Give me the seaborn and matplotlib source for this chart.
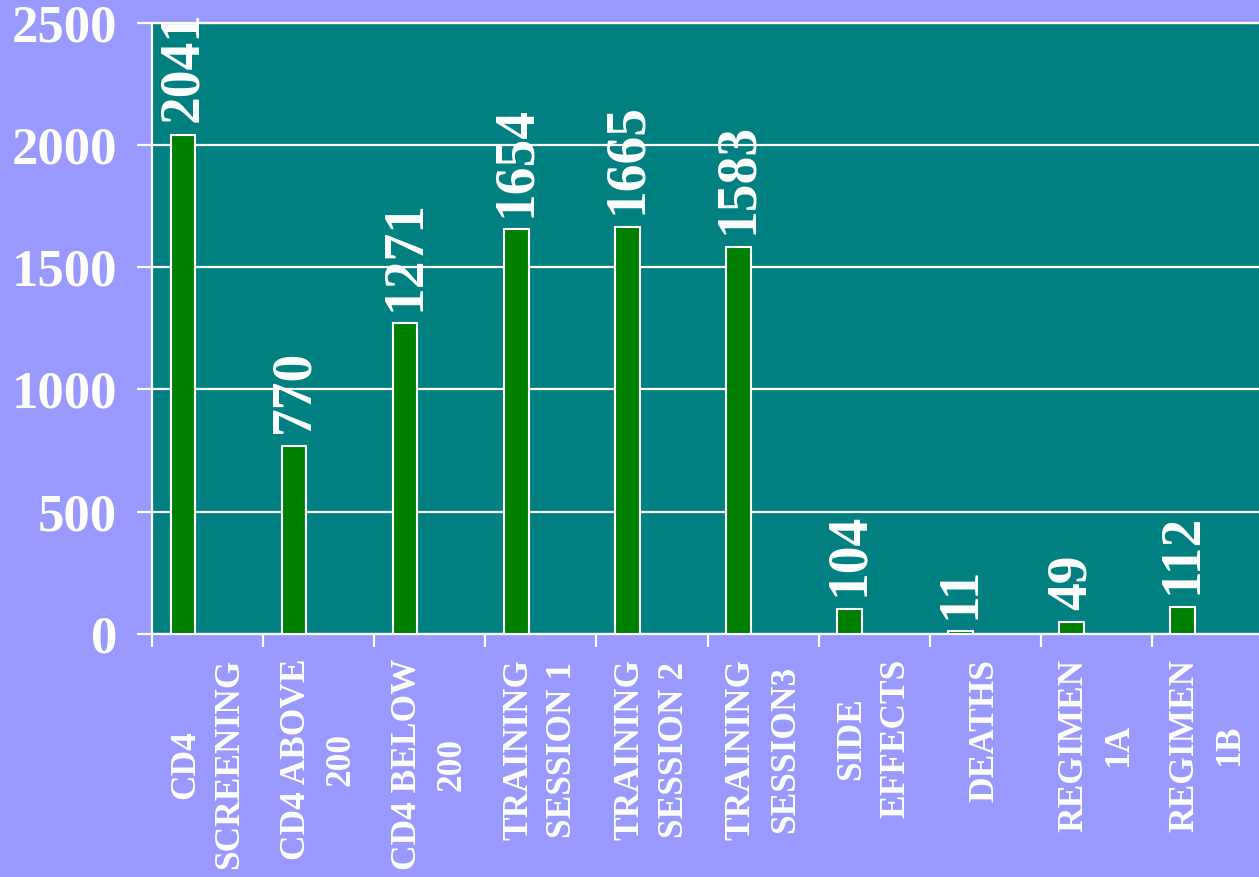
import matplotlib
matplotlib.use("Agg")
import matplotlib.pyplot as plt
import seaborn as sns
import pandas as pd
import numpy as np

categories = ["CD4\nSCREENING", "CD4 ABOVE\n200", "CD4 BELOW\n200",
              "TRAINING\nSESSION 1", "TRAINING\nSESSION 2", "TRAINING\nSESSION3",
              "SIDE\nEFFECTS", "DEATHS", "REGIMEN\n1A", "REGIMEN\n1B"]
values = [2041, 770, 1271, 1654, 1665, 1583, 104, 11, 49, 112]
series_levels = ["Series 1", "Series 2", "Series 3"]
y_ticks = [0, 500, 1000, 1500, 2000, 2500]

BG = "#9999FF"
PLOT_BG = "#008080"
BAR = "#008000"
WHITE = "#FFFFFF"

sns.set_style("ticks")
plt.rcParams["font.family"] = ["Liberation Serif", "DejaVu Serif"]
plt.rcParams["font.weight"] = "bold"

df = pd.DataFrame({"category": categories, "value": values, "series": series_levels[0]})

fig = plt.figure(figsize=(12.59, 8.77), dpi=100, facecolor=BG)
ax = fig.add_axes([152 / 1259, 243 / 877, 1111 / 1259, 611.5 / 877])
ax.set_facecolor(PLOT_BG)

sns.barplot(data=df, x="category", y="value", hue="series", hue_order=series_levels,
            order=categories, palette={s: BAR for s in series_levels}, width=2 / 3,
            saturation=1, dodge=True, edgecolor=WHITE, linewidth=1.5, legend=False,
            ax=ax, zorder=3)

ax.set_xlim(-0.5, len(categories) - 0.5)
ax.set_ylim(0, 2500)
ax.set_yticks(y_ticks)
ax.set_yticklabels([str(t) for t in y_ticks], fontsize=38, fontweight="bold", color=WHITE)
ax.yaxis.grid(True, color=WHITE, linewidth=1.6, zorder=1)
ax.xaxis.grid(False)
ax.set_axisbelow(True)

ax.set_xticks(np.arange(len(categories)))
ax.set_xticklabels(categories, rotation=90, fontsize=25.5, fontweight="bold", color=WHITE,
                   ha="center", va="top", multialignment="center", linespacing=1.45)
ax.tick_params(axis="x", which="major", length=0, pad=18)
ax.set_xticks(np.arange(len(categories) + 1) - 0.5, minor=True)
ax.tick_params(axis="x", which="minor", length=9, width=1.6, color=WHITE, direction="out")
ax.tick_params(axis="y", which="major", length=11, width=1.6, color=WHITE, direction="out", pad=14)

ax.set_xlabel("")
ax.set_ylabel("")

for side in ["left", "bottom", "top"]:
    ax.spines[side].set_visible(True)
    ax.spines[side].set_color(WHITE)
    ax.spines[side].set_linewidth(1.6)
ax.spines["right"].set_visible(False)

for cont in ax.containers:
    ax.bar_label(cont, fmt="%d", rotation=90, padding=9, fontsize=40,
                 fontweight="bold", color=WHITE)

fig.savefig("out.png", dpi=100, facecolor=BG)
